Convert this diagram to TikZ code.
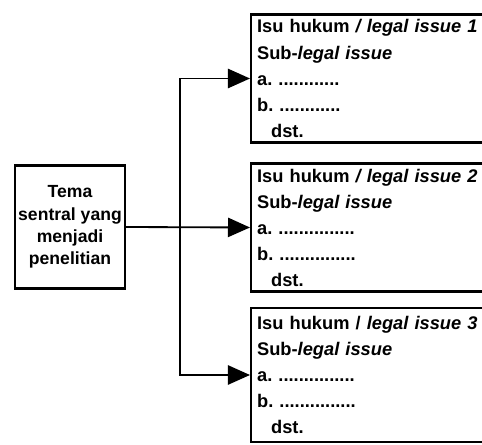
\documentclass[tikz,border=0pt]{standalone}
\usepackage{fontspec}
\setmainfont{Liberation Sans}
\usetikzlibrary{arrows.meta,positioning}
\frenchspacing

\begin{document}
\begin{tikzpicture}[x=0.025cm,y=-0.025cm,
mybox/.style={draw=black, line width=1.6pt, inner sep=0pt},
issuebox/.style={mybox, anchor=west, minimum width=6.5cm, minimum height=3.2cm,
 align=left, text width=6.2cm, inner xsep=0.15cm, font=\bfseries\fontsize{13}{18.5}\selectfont},
link/.style={line width=1.3pt, -{Triangle[length=0.55cm,width=0.48cm]}}]
\path[use as bounding box, clip] (0,0) rectangle (482,445);
\node[mybox, minimum width=2.75cm, minimum height=3.075cm, align=center,
 font=\bfseries\fontsize{12.5}{15.8}\selectfont] (theme) at (70,227)
 {Tema\\sentral yang\\menjadi\\penelitian};
\node[issuebox] (issue1) at (250,78.5)
 {Isu hukum \textit{/ legal issue 1}\\Sub-\textit{legal issue}\\a. ............\\b. ............\\\hspace*{0.35cm}dst.};
\node[issuebox] (issue2) at (250,227.5)
 {Isu hukum \textit{/ legal issue 2}\\Sub-\textit{legal issue}\\a. ...............\\b. ...............\\\hspace*{0.35cm}dst.};
\node[issuebox, minimum height=3.35cm] (issue3) at (250,375)
 {Isu hukum / \textit{legal issue 3}\\Sub-\textit{legal issue}\\a. ...............\\b. ...............\\\hspace*{0.35cm}dst.};
\coordinate (split) at (180,227);
\draw[link] (theme.east) -- (issue2.west);
\draw[link] (split) |- (issue1.west);
\draw[link] (split) |- (issue3.west);
\end{tikzpicture}
\end{document}
